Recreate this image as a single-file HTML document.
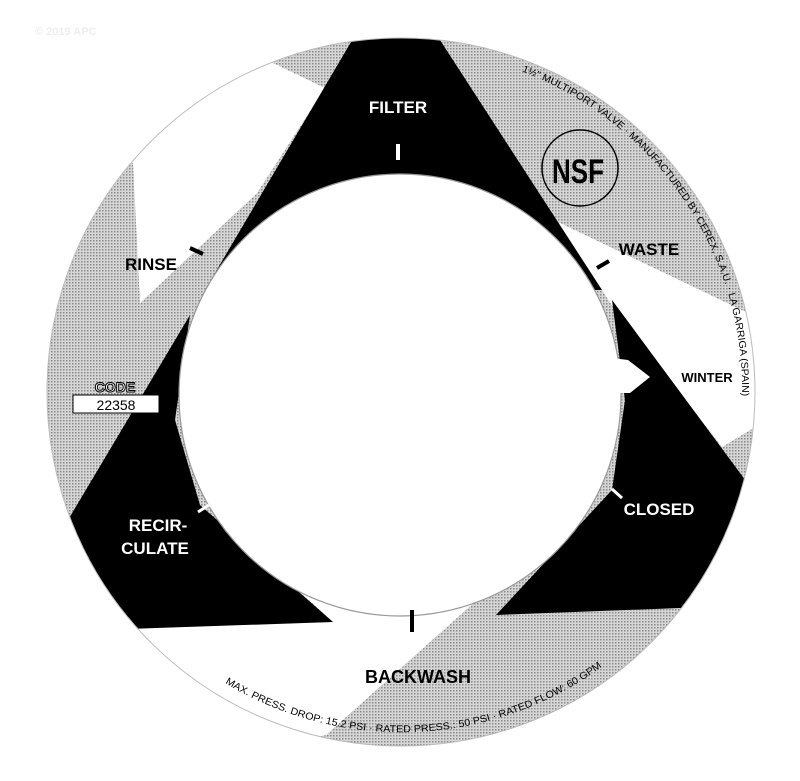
<!DOCTYPE html>
<html><head><meta charset="utf-8"><style>
html,body{margin:0;padding:0;background:#fff;}
svg{display:block;font-family:"Liberation Sans",sans-serif;}
</style></head><body>
<svg width="800" height="781" viewBox="0 0 800 781" xmlns="http://www.w3.org/2000/svg">
<defs>
<pattern id="dots" width="3" height="3" patternUnits="userSpaceOnUse">
<rect width="3" height="3" fill="#d6d6d6"/>
<rect width="1.5" height="1.5" fill="#8a8a8a"/>
</pattern>
<clipPath id="ring"><circle cx="401" cy="392" r="354"/></clipPath>
</defs>
<text x="35" y="35" font-size="11" fill="#eeeeee" font-weight="bold">© 2019 APC</text>
<g clip-path="url(#ring)">
<rect x="0" y="0" width="800" height="781" fill="url(#dots)"/>
<polygon points="273,63 200,40 60,140 133,163 140,303 257,193 325,88" fill="#fff"/>
<polygon points="558,222 800,338 800,400 722,447 613,307" fill="#fff"/>
<polygon points="40,628 333,622 300,592 480,592 477,600 326,735 40,800" fill="#fff"/>
<polygon points="364,20 427,20 602,290 205,290" fill="#000"/>
<polygon points="190,315 65,525 40,560 40,632 333,622 200,505 175,420" fill="#000"/>
<polygon points="612,300 760,500 760,606 680,608 496,615 612,490 625,400" fill="#000"/>
</g>
<circle cx="401" cy="392" r="354" fill="none" stroke="#bbb" stroke-width="1"/>
<circle cx="400" cy="395" r="221" fill="#fff" stroke="#999" stroke-width="1.2"/>
<polygon points="612,358 628,360 650,377 630,393 612,393" fill="#fff"/>
<rect x="396" y="144" width="4" height="16" fill="#fff"/>
<rect x="410" y="610" width="4" height="22" fill="#000"/>
<line x1="190" y1="248" x2="203" y2="254" stroke="#000" stroke-width="4"/>
<line x1="597" y1="268" x2="609" y2="261" stroke="#000" stroke-width="4"/>
<line x1="612" y1="489" x2="622" y2="498" stroke="#fff" stroke-width="3"/>
<line x1="198" y1="512" x2="209" y2="505" stroke="#fff" stroke-width="3"/>
<g font-weight="bold">
<text x="398" y="113" font-size="17" fill="#fff" text-anchor="middle">FILTER</text>
<text x="151" y="270" font-size="17" fill="#000" text-anchor="middle">RINSE</text>
<text x="649" y="255" font-size="17" fill="#000" text-anchor="middle">WASTE</text>
<text x="707" y="382" font-size="13" fill="#000" text-anchor="middle">WINTER</text>
<text x="659" y="515" font-size="17" fill="#fff" text-anchor="middle">CLOSED</text>
<text x="158" y="531" font-size="17" fill="#fff" text-anchor="middle">RECIR-</text>
<text x="155" y="554" font-size="17" fill="#fff" text-anchor="middle">CULATE</text>
<text x="418" y="683" font-size="18" fill="#000" text-anchor="middle">BACKWASH</text>
</g>
<circle cx="580" cy="168" r="38" fill="none" stroke="#000" stroke-width="1.5"/>
<text x="578" y="183" font-size="34" font-weight="bold" text-anchor="middle" fill="#000" textLength="52" lengthAdjust="spacingAndGlyphs">NSF</text>
<text x="115" y="392" font-size="14" font-weight="bold" text-anchor="middle" fill="#fff" stroke="#000" stroke-width="1">CODE</text>
<rect x="73" y="395" width="86" height="18" fill="#fff" stroke="#000" stroke-width="1"/>
<text x="116" y="410" font-size="14" text-anchor="middle" fill="#000">22358</text>
<path id="topArc" d="M 521.8 71.4 A 341 341 0 0 1 742 400" fill="none"/>
<text font-size="10" fill="#000"><textPath href="#topArc" textLength="418" lengthAdjust="spacingAndGlyphs">1½" MULTIPORT VALVE · MANUFACTURED BY CEREX, S.A.U. · LA GARRIGA (SPAIN)</textPath></text>
<path id="botArc" d="M 225 683 A 340 340 0 0 0 603 666" fill="none"/>
<text font-size="10" fill="#000"><textPath href="#botArc" textLength="400" lengthAdjust="spacingAndGlyphs">MAX. PRESS. DROP: 15.2 PSI · RATED PRESS.: 50 PSI · RATED FLOW: 60 GPM</textPath></text>
</svg>
</body></html>
